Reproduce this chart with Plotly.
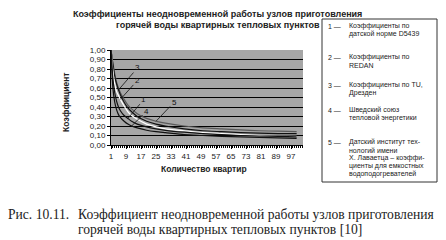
import plotly.graph_objects as go

# ---- data ----
apartments = [1, 2, 3, 4, 5, 6, 8, 10, 12, 15, 20, 25, 30, 40, 50, 60, 70, 80, 90, 100]
curve1 = [1.0, 0.70, 0.55, 0.46, 0.40, 0.36, 0.31, 0.28, 0.25, 0.22, 0.19, 0.17, 0.155, 0.135, 0.12, 0.11, 0.10, 0.095, 0.09, 0.085]
curve2 = [1.0, 0.78, 0.64, 0.56, 0.52, 0.48, 0.41, 0.35, 0.31, 0.27, 0.22, 0.19, 0.17, 0.15, 0.13, 0.12, 0.11, 0.10, 0.095, 0.09]
curve3 = [1.0, 0.85, 0.72, 0.64, 0.58, 0.53, 0.45, 0.39, 0.35, 0.30, 0.25, 0.22, 0.20, 0.17, 0.15, 0.14, 0.13, 0.125, 0.12, 0.12]
curve4 = [1.0, 0.60, 0.45, 0.37, 0.32, 0.29, 0.25, 0.22, 0.20, 0.18, 0.155, 0.14, 0.13, 0.11, 0.10, 0.09, 0.085, 0.08, 0.075, 0.07]
curve5 = [1.0, 0.86, 0.75, 0.66, 0.60, 0.55, 0.48, 0.42, 0.38, 0.33, 0.28, 0.25, 0.23, 0.20, 0.18, 0.17, 0.16, 0.15, 0.145, 0.14]
x_ticks = [1, 9, 17, 25, 33, 41, 49, 57, 65, 73, 81, 89, 97]
y_ticks = [0.0, 0.1, 0.2, 0.3, 0.4, 0.5, 0.6, 0.7, 0.8, 0.9, 1.0]

legend_items = [
    ("1 —", ["Коэффициенты по", "датской норме D5439"]),
    ("2 —", ["Коэффициенты по", "REDAN"]),
    ("3 —", ["Коэффициенты по TU,", "Дрезден"]),
    ("4 —", ["Шведский союз", "тепловой энергетики"]),
    ("5 —", ["Датский институт тех-", "нологий имени", "Х. Лаваетца – коэффи-",
             "циенты для емкостных", "водоподогревателей"]),
]

W, H = 446, 240
L, R, T, B = 111, 303, 50, 145


def px(xp):
    return (xp - L) / (R - L)


def py(yp):
    return (B - yp) / (B - T)


SANS = "Liberation Sans"
fig = go.Figure()
series = [
    (curve5, "#5a5a5a", 1.2),
    (curve3, "#111111", 1.2),
    (curve2, "#ffffff", 1.2),
    (curve1, "#111111", 1.2),
    (curve4, "#111111", 1.2),
]
for ys, col, w in series:
    fig.add_trace(go.Scatter(x=apartments, y=ys, mode="lines",
                             line=dict(color=col, width=w, shape="spline", smoothing=0.6),
                             showlegend=False, hoverinfo="skip"))

fig.update_layout(
    width=W, height=H,
    margin=dict(l=L, r=W - R, t=T, b=H - B),
    paper_bgcolor="white",
    plot_bgcolor="#a6a6a6",
    separators=", ",
    showlegend=False,
)
fig.update_xaxes(range=[1, 103.4], tickvals=x_ticks, ticktext=[str(v) for v in x_ticks],
                 showgrid=False, zeroline=False, showline=True, linecolor="black", linewidth=1,
                 ticks="outside", ticklen=3, tickcolor="black",
                 minor=dict(dtick=1, tick0=1, ticks="outside", ticklen=2, tickcolor="black", showgrid=False),
                 tickfont=dict(family=SANS, size=8, color="#222"))
fig.update_yaxes(range=[0, 1], tickvals=y_ticks, tickformat=".2f",
                 showgrid=True, gridcolor="black", gridwidth=1, zeroline=False,
                 showline=True, linecolor="black", linewidth=1,
                 ticks="outside", ticklen=3, tickcolor="black",
                 tickfont=dict(family=SANS, size=8, color="#222"))

ann = []
# title
ann.append(dict(text="<b>Коэффициенты неодновременной работы узлов приготовления</b>",
                x=px(217), y=py(14), xref="paper", yref="paper", showarrow=False,
                font=dict(family=SANS, size=9, color="#222"), xanchor="center", yanchor="middle"))
ann.append(dict(text="<b>горячей воды квартирных тепловых пунктов</b>",
                x=px(218), y=py(25), xref="paper", yref="paper", showarrow=False,
                font=dict(family=SANS, size=9, color="#222"), xanchor="center", yanchor="middle"))
# axis titles
ann.append(dict(text="<b>Коэффициент</b>", x=px(66), y=py(102), xref="paper", yref="paper",
                showarrow=False, textangle=-90, font=dict(family=SANS, size=8.5, color="#222"),
                xanchor="center", yanchor="middle"))
ann.append(dict(text="<b>Количество квартир</b>", x=px(204), y=py(169), xref="paper", yref="paper",
                showarrow=False, font=dict(family=SANS, size=8.5, color="#222"),
                xanchor="center", yanchor="middle"))

# curve labels with pointer lines
pointers = [("3", curve3, 5, 19, -22), ("2", curve2, 6, 17, -19), ("1", curve1, 10, 16, -19),
            ("4", curve4, 12, 15, -15), ("5", curve5, 25, 18, -19)]
for lab, ys, xv, axo, ayo in pointers:
    yv = ys[apartments.index(xv)]
    ann.append(dict(text=lab, x=xv, y=yv, xref="x", yref="y", ax=axo, ay=ayo,
                    showarrow=True, arrowhead=0, arrowwidth=0.8, arrowcolor="#111",
                    font=dict(family=SANS, size=8, color="#111")))

# legend box content
line_y = [[26, 34], [57, 65], [85, 93], [110, 118], [142, 150, 158, 166, 174]]
for (num, lines), ys in zip(legend_items, line_y):
    ann.append(dict(text=num, x=px(326), y=py(ys[0]), xref="paper", yref="paper", showarrow=False,
                    font=dict(family=SANS, size=7, color="#222"), xanchor="left", yanchor="middle"))
    for t, yy in zip(lines, ys):
        ann.append(dict(text=t, x=px(347), y=py(yy), xref="paper", yref="paper", showarrow=False,
                        font=dict(family=SANS, size=7, color="#222"), xanchor="left", yanchor="middle"))

# caption
SERIF = "Liberation Serif"
CAP = 13.6
ann.append(dict(text="Рис. 10.11.", x=px(6), y=py(214), xref="paper", yref="paper", showarrow=False,
                font=dict(family=SERIF, size=CAP, color="#222"), xanchor="left", yanchor="middle"))
ann.append(dict(text="Коэффициент неодновременной работы узлов приготовления", x=px(76), y=py(214),
                xref="paper", yref="paper", showarrow=False,
                font=dict(family=SERIF, size=CAP, color="#222"), xanchor="left", yanchor="middle"))
ann.append(dict(text="горячей воды квартирных тепловых пунктов [10]", x=px(76), y=py(229),
                xref="paper", yref="paper", showarrow=False,
                font=dict(family=SERIF, size=CAP, color="#222"), xanchor="left", yanchor="middle"))

fig.update_layout(annotations=ann)
fig.add_shape(type="rect", xref="paper", yref="paper", x0=px(322), x1=px(437), y0=py(19), y1=py(182),
              line=dict(color="#333", width=1), fillcolor="rgba(0,0,0,0)")

fig.write_html("out.html")
